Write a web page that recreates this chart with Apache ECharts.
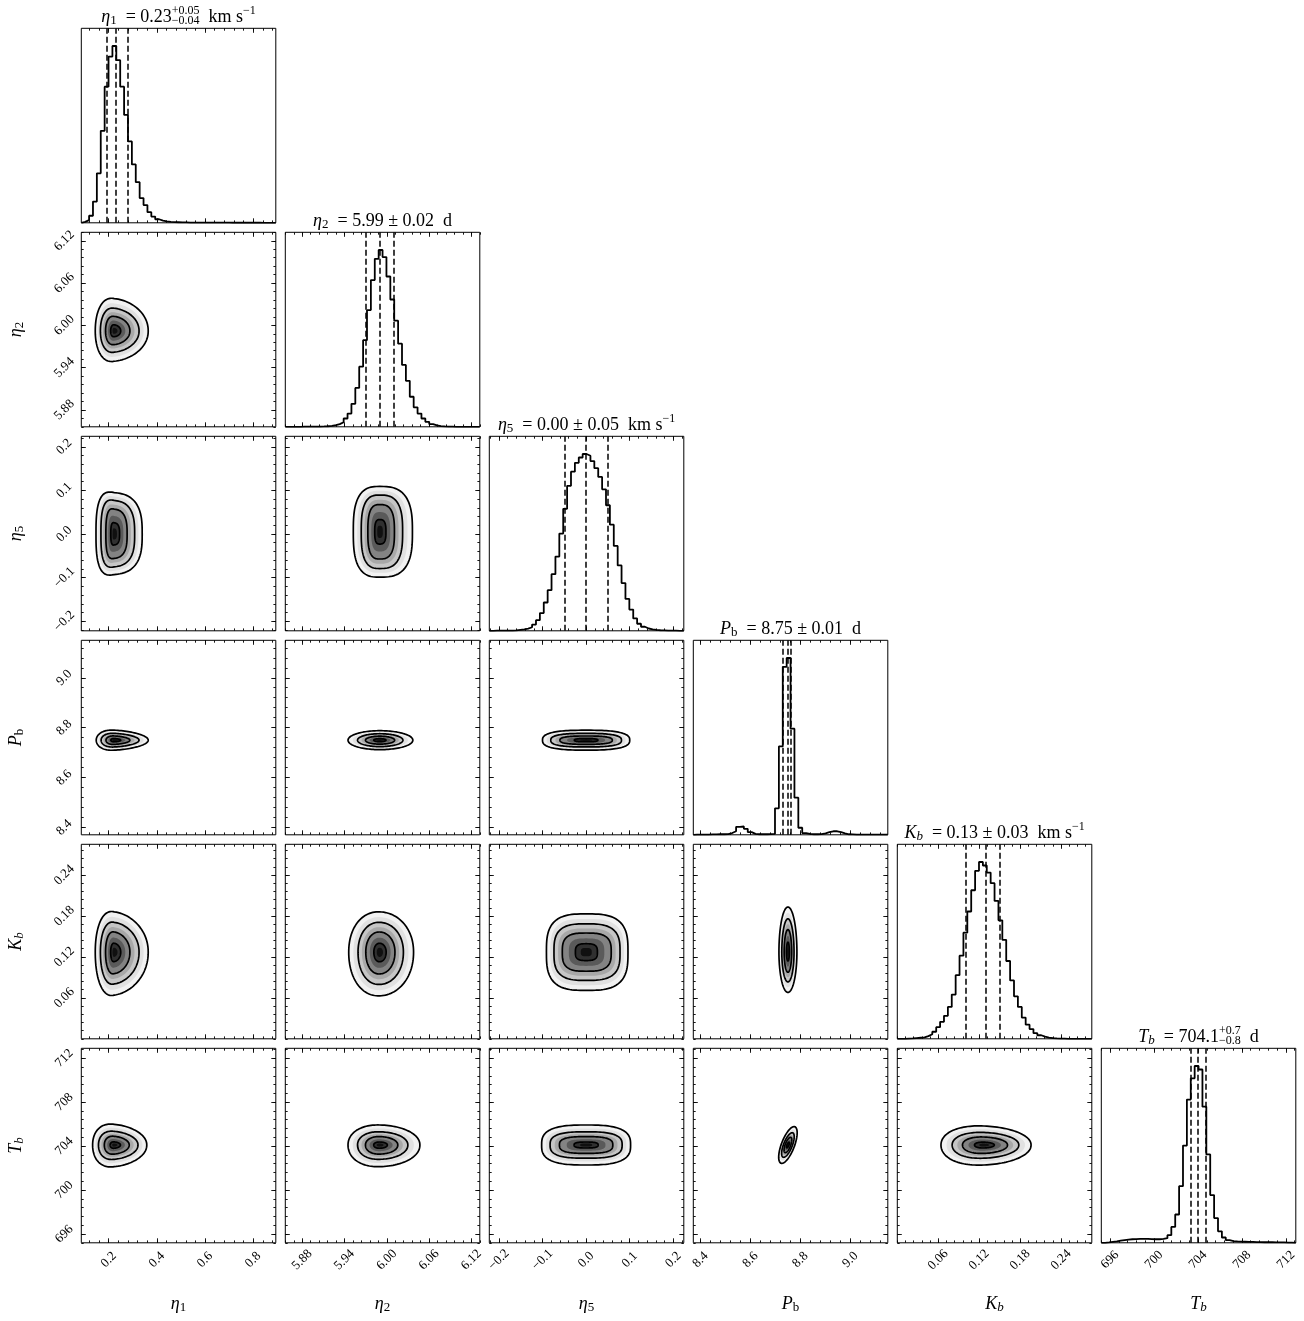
<!DOCTYPE html>
<html>
<head>
    <meta charset="utf-8">
    <script src="https://cdn.jsdelivr.net/npm/echarts@6/dist/echarts.min.js"></script>
    <style>html, body { margin: 0; padding: 0; background: #fff; }</style>
</head>
<body>
    <div id="main" style="width: 1304px;height:1321px;"></div>
    <script type="text/javascript">

// parameter order: eta1, eta2, eta5, P_b, K_b, T_b
var ranges = [[0.086, 0.894], [5.856, 6.132], [-0.222, 0.224], [8.371, 9.150], [0.0, 0.285], [695.2, 712.9]];
var majorTicks = [
    [0.2, 0.4, 0.6, 0.8],
    [5.88, 5.94, 6.00, 6.06, 6.12],
    [-0.2, -0.1, 0.0, 0.1, 0.2],
    [8.4, 8.6, 8.8, 9.0],
    [0.06, 0.12, 0.18, 0.24],
    [696, 700, 704, 708, 712]
];
var tickLabels = [
    ['0.2', '0.4', '0.6', '0.8'],
    ['5.88', '5.94', '6.00', '6.06', '6.12'],
    ['\u22120.2', '\u22120.1', '0.0', '0.1', '0.2'],
    ['8.4', '8.6', '8.8', '9.0'],
    ['0.06', '0.12', '0.18', '0.24'],
    ['696', '700', '704', '708', '712']
];

// 50-bin marginal histograms (relative counts)
var hist_eta1 = [0.5, 1.5, 4, 12, 28, 52, 77, 94, 100, 92, 77, 61, 46, 33, 23, 14, 10, 6, 3.5, 2,
    1.2, 0.8, 0.5, 0.4, 0.3, 0.2, 0.2, 0.15, 0.1, 0.1, 0.1, 0.1, 0.05, 0.05, 0.05, 0.05, 0.05, 0.05, 0.03, 0.03,
    0.03, 0.02, 0.02, 0.02, 0.02, 0.02, 0.01, 0.01, 0.01, 0.01];
var hist_eta2 = [0, 0, 0, 0, 0.05, 0.05, 0.1, 0.1, 0.15, 0.2, 0.3, 0.5, 0.9, 1.5, 2.6, 4.7, 7.5, 13, 22, 34,
    49, 66, 83, 95, 100, 96, 85, 72, 60, 47, 35, 26, 17, 11, 7.5, 4.7, 2.8, 1.5, 0.8, 0.4,
    0.2, 0.1, 0.05, 0, 0, 0, 0, 0, 0, 0];
var hist_eta5 = [0, 0.05, 0.05, 0.1, 0.1, 0.15, 0.2, 0.5, 0.8, 1.2, 2, 3.5, 6, 10, 16, 23, 32, 42, 55, 69,
    82, 90, 95, 98, 100, 99, 96, 92, 87, 80, 71, 60, 48, 37, 27, 18, 12, 7, 4, 2.3,
    1.3, 0.8, 0.5, 0.3, 0.2, 0.1, 0.1, 0.05, 0, 0];
var hist_Pb = [0.1, 0.1, 0.1, 0.15, 0.2, 0.2, 0.3, 0.3, 0.4, 1, 2, 4.5, 4.7, 3.4, 1.5, 0.5, 0.3, 0.3, 0.3, 0.4,
    0.5, 15, 50, 95, 100, 60, 21, 4, 1, 0.5, 0.3, 0.3, 0.4, 0.8, 1.5, 2, 2, 1.5, 0.8, 0.3,
    0.2, 0.1, 0.1, 0.1, 0.1, 0.1, 0.1, 0.1, 0.1, 0.1];
var hist_Kb = [0, 0, 0.1, 0.2, 0.4, 0.6, 0.8, 1.5, 2.6, 4, 6.6, 9.6, 13, 18, 25, 36, 47, 60, 72, 84,
    95, 100, 98, 94, 88, 78, 67, 56, 44, 33, 24, 18, 12, 8, 5.5, 3.2, 2, 1.2, 0.7, 0.4,
    0.2, 0.1, 0.05, 0, 0, 0, 0, 0, 0, 0];
var hist_Tb = [0, 0.2, 0.5, 0.8, 1.2, 1.5, 1.8, 2, 2.1, 2.2, 2.2, 2.2, 2.1, 2, 2, 2.2, 2.6, 4.3, 9, 16,
    32, 55, 81, 93, 100, 98, 77, 50, 27, 14, 6.5, 3, 1.5, 1, 0.8, 0.7, 0.6, 0.5, 0.5, 0.4,
    0.4, 0.3, 0.3, 0.3, 0.2, 0.2, 0.2, 0.1, 0.1, 0];
var hists = [hist_eta1, hist_eta2, hist_eta5, hist_Pb, hist_Kb, hist_Tb];

// 16th, 50th, 84th percentiles
var quantiles = [[0.189, 0.231, 0.284], [5.972, 5.992, 6.015], [-0.050, 0.0, 0.048],
    [8.733, 8.746, 8.759], [0.098, 0.127, 0.155], [703.3, 704.0, 704.75]];

// 2D contours: relative size of the four levels per parameter
var levelFrac = [
    [1, 0.73, 0.46, 0.19],
    [1, 0.70, 0.45, 0.19],
    [1, 0.81, 0.60, 0.27],
    [1, 0.68, 0.42, 0.16],
    [1, 0.74, 0.50, 0.22],
    [1, 0.66, 0.42, 0.15]
];
// [row param, column param]
var contourPairs = [[1, 0], [2, 0], [2, 1], [3, 0], [3, 1], [3, 2], [4, 0], [4, 1], [4, 2], [4, 3],
    [5, 0], [5, 1], [5, 2], [5, 3], [5, 4]];
var contourCentre = [
    [0.223, 5.992], [0.223, 0.0], [5.990, 0.005], [0.223, 8.750], [5.990, 8.750], [0.0, 8.750],
    [0.223, 0.127], [5.990, 0.127], [0.0, 0.127], [8.750, 0.127],
    [0.223, 704.1], [5.990, 704.1], [0.0, 704.1], [8.750, 704.1], [0.127, 704.1]
];
// outer contour reach from centre: [left, right, below, above]
var contourSpread = [
    [0.079, 0.141, 0.043, 0.046],
    [0.076, 0.116, 0.093, 0.095],
    [0.0375, 0.0464, 0.104, 0.104],
    [0.075, 0.141, 0.040, 0.040],
    [0.045, 0.047, 0.038, 0.038],
    [0.100, 0.100, 0.040, 0.040],
    [0.079, 0.141, 0.063, 0.059],
    [0.044, 0.048, 0.064, 0.059],
    [0.091, 0.096, 0.056, 0.056],
    [0.036, 0.036, 0.059, 0.066],
    [0.090, 0.135, 1.97, 1.88],
    [0.045, 0.057, 1.97, 1.82],
    [0.102, 0.102, 1.82, 1.82],
    [0.037, 0.037, 1.25, 1.25],
    [0.063, 0.069, 1.82, 1.73]
];
// [squareness, taper towards +x, slope dy/dx]
var contourShape = [
    [0.95, 0.12, 0], [0.7, 0.08, 0], [0.7, 0, 0], [1, 0.15, 0], [1, 0, 0], [0.75, 0, 0],
    [0.95, 0.12, 0], [0.95, 0.03, 0], [0.65, 0, 0], [1, 0, 0],
    [0.95, 0.15, 0], [0.95, 0.05, 0], [0.7, 0, 0], [1, 0, 30], [0.95, 0.1, 0]
];

var FONT = 'Liberation Serif';
var P0X = 81.3, P0Y = 28.3, STEP = 204, SIZE = 194.5;

var ctx = document.createElement('canvas').getContext('2d');
function tw(t, size, it) {
    ctx.font = (it ? 'italic ' : '') + size + 'px "' + FONT + '"';
    return ctx.measureText(t).width;
}
function txt(t, x, y, size, it) {
    return {
        type: 'text', x: x, y: y, silent: true,
        style: {
            text: t, font: (it ? 'italic ' : '') + size + 'px "' + FONT + '"', fill: '#000',
            textAlign: 'left', textVerticalAlign: 'middle', align: 'left', verticalAlign: 'middle'
        }
    };
}
// lay out a piece of math text centred on (0,0)
function mathLine(segs) {
    var x = 0, kids = [];
    segs.forEach(function (s) {
        if (s.top) {
            var w = Math.max(tw(s.top, s.size), tw(s.bot, s.size));
            kids.push(txt(s.top, x, -5.5, s.size));
            kids.push(txt(s.bot, x, 4, s.size));
            x += w;
        } else {
            kids.push(txt(s.t, x, s.dy || 0, s.size, s.it));
            x += tw(s.t, s.size, s.it);
        }
    });
    kids.forEach(function (k) { k.x -= x / 2; });
    return kids;
}

var symSeg = [
    [{t: '\u03b7', it: 1, size: 18}, {t: '1', size: 13, dy: 4}],
    [{t: '\u03b7', it: 1, size: 18}, {t: '2', size: 13, dy: 4}],
    [{t: '\u03b7', it: 1, size: 18}, {t: '5', size: 13, dy: 4}],
    [{t: 'P', it: 1, size: 18}, {t: 'b', size: 13, dy: 4}],
    [{t: 'K', it: 1, size: 18}, {t: 'b', it: 1, size: 13, dy: 4}],
    [{t: 'T', it: 1, size: 18}, {t: 'b', it: 1, size: 13, dy: 4}]
];
var titleTail = [
    [{t: '  = 0.23', size: 18}, {top: '+0.05', bot: '\u22120.04', size: 12}, {t: '  km s', size: 18}, {t: '\u22121', size: 12, dy: -6}],
    [{t: '  = 5.99 \u00b1 0.02  d', size: 18}],
    [{t: '  = 0.00 \u00b1 0.05  km s', size: 18}, {t: '\u22121', size: 12, dy: -6}],
    [{t: '  = 8.75 \u00b1 0.01  d', size: 18}],
    [{t: '  = 0.13 \u00b1 0.03  km s', size: 18}, {t: '\u22121', size: 12, dy: -6}],
    [{t: '  = 704.1', size: 18}, {top: '+0.7', bot: '\u22120.8', size: 12}, {t: '  d', size: 18}]
];

function minorValues(p) {
    var t = majorTicks[p], st = (t[1] - t[0]) / 5, r = ranges[p], out = [], v;
    for (v = t[0]; v >= r[0] - 1e-9; v -= st) out.push(+v.toFixed(6));
    for (v = t[0] + st; v <= r[1] + 1e-9; v += st) out.push(+v.toFixed(6));
    return out;
}

function addAxis(list, gi, p, pos, major, withLabels) {
    var r = ranges[p];
    var ax = {
        type: 'value', gridIndex: gi, position: pos, min: r[0], max: r[1],
        axisLine: {show: false, onZero: false}, splitLine: {show: false},
        axisTick: {
            show: true, inside: true, length: major ? 4.5 : 2.4,
            customValues: major ? majorTicks[p] : minorValues(p),
            lineStyle: {color: '#000', width: 0.9}
        },
        axisLabel: {show: false}
    };
    if (withLabels) {
        ax.axisLabel = {
            show: true, customValues: majorTicks[p], rotate: 45, align: 'center', verticalAlign: 'middle',
            margin: 17, fontFamily: FONT, fontSize: 13, color: '#000',
            formatter: function (v) {
                for (var k = 0; k < majorTicks[p].length; k++) {
                    if (Math.abs(majorTicks[p][k] - v) < 1e-9) return tickLabels[p][k];
                }
                return '';
            }
        };
    }
    list.push(ax);
    return list.length - 1;
}

function stepPoints(p) {
    var h = hists[p], r = ranges[p], w = (r[1] - r[0]) / h.length, pts = [[r[0], 0]];
    for (var k = 0; k < h.length; k++) {
        pts.push([r[0] + k * w, h[k]]);
        pts.push([r[0] + (k + 1) * w, h[k]]);
    }
    pts.push([r[1], 0]);
    return pts;
}

var bandStyle = [[0, '#f2f2f2'], [0.5, '#e1e1e1'], [1, '#c6c6c6'], [1.5, '#a8a8a8'],
    [2, '#838383'], [2.5, '#5a5a5a'], [3, '#303030'], [3.5, '#101010']];

function fracAt(f, u) {
    var a = Math.floor(u), t = u - a;
    var fa = f[a], fb = a + 1 < f.length ? f[a + 1] : 0;
    return fa + (fb - fa) * t;
}

function makeContour(k) {
    var pr = contourPairs[k], fx = levelFrac[pr[1]], fy = levelFrac[pr[0]];
    var c = contourCentre[k], s = contourSpread[k], sh = contourShape[k];
    function ring(api, a, b) {
        var pts = [];
        for (var n = 0; n < 120; n++) {
            var t = n / 120 * 2 * Math.PI, ca = Math.cos(t), sa = Math.sin(t);
            var ux = (ca < 0 ? -1 : 1) * Math.pow(Math.abs(ca), sh[0]);
            var uy = (sa < 0 ? -1 : 1) * Math.pow(Math.abs(sa), sh[0]);
            var dx = ux * (ux < 0 ? s[0] : s[1]) * a;
            var dy = uy * (uy < 0 ? s[2] : s[3]) * b * (1 - sh[1] * ux) + sh[2] * dx;
            pts.push(api.coord([c[0] + dx, c[1] + dy]));
        }
        return pts;
    }
    return function (params, api) {
        var kids = [];
        bandStyle.forEach(function (bs) {
            kids.push({type: 'polygon', shape: {points: ring(api, fracAt(fx, bs[0]), fracAt(fy, bs[0]))},
                style: {fill: bs[1]}});
        });
        for (var l = 0; l < 4; l++) {
            kids.push({type: 'polygon', shape: {points: ring(api, fx[l], fy[l])},
                style: {fill: null, stroke: '#000', lineWidth: 1.7}});
        }
        return {type: 'group', children: kids};
    };
}

var grids = [], xAxes = [], yAxes = [], series = [], graphics = [];

for (var i = 0; i < 6; i++) {
    for (var j = 0; j <= i; j++) {
        var gi = grids.length;
        grids.push({
            left: P0X + STEP * j, top: P0Y + STEP * i, width: SIZE, height: SIZE,
            show: true, borderColor: '#000', borderWidth: 1, backgroundColor: 'transparent'
        });
        var xi = addAxis(xAxes, gi, j, 'bottom', true, i === 5);
        addAxis(xAxes, gi, j, 'bottom', false, false);
        addAxis(xAxes, gi, j, 'top', true, false);
        addAxis(xAxes, gi, j, 'top', false, false);
        var yi;
        if (i === j) {
            yAxes.push({type: 'value', gridIndex: gi, min: 0, max: 1.1 * Math.max.apply(null, hists[i]), show: false});
            yi = yAxes.length - 1;
            series.push({
                type: 'line', xAxisIndex: xi, yAxisIndex: yi, symbol: 'none', silent: true,
                data: stepPoints(i), lineStyle: {color: '#000', width: 1.8},
                markLine: {
                    symbol: ['none', 'none'], silent: true, label: {show: false},
                    lineStyle: {color: '#000', type: [6, 3], width: 1.5},
                    data: quantiles[i].map(function (q) { return {xAxis: q}; })
                }
            });
        } else {
            yi = addAxis(yAxes, gi, i, 'left', true, j === 0);
            addAxis(yAxes, gi, i, 'left', false, false);
            addAxis(yAxes, gi, i, 'right', true, false);
            addAxis(yAxes, gi, i, 'right', false, false);
            var k = -1;
            for (var m = 0; m < contourPairs.length; m++) {
                if (contourPairs[m][0] === i && contourPairs[m][1] === j) k = m;
            }
            series.push({
                type: 'custom', xAxisIndex: xi, yAxisIndex: yi, silent: true, clip: true,
                data: [contourCentre[k]], renderItem: makeContour(k)
            });
        }
    }
}

// titles over the diagonal panels, axis names along the outside
for (var p = 0; p < 6; p++) {
    graphics.push({
        type: 'group', x: P0X + STEP * p + SIZE / 2, y: P0Y + STEP * p - 11.5,
        children: mathLine(symSeg[p].concat(titleTail[p]))
    });
    graphics.push({
        type: 'group', x: P0X + STEP * p + SIZE / 2, y: 1304,
        children: mathLine(symSeg[p])
    });
    if (p > 0) {
        graphics.push({
            type: 'group', x: 16, y: P0Y + STEP * p + SIZE / 2, rotation: Math.PI / 2,
            children: mathLine(symSeg[p])
        });
    }
}

var option = {
    animation: false,
    textStyle: {fontFamily: FONT},
    grid: grids,
    xAxis: xAxes,
    yAxis: yAxes,
    series: series,
    graphic: graphics
};

var myChart = echarts.init(document.getElementById('main'));
myChart.setOption(option);

    </script>
</body>
</html>
